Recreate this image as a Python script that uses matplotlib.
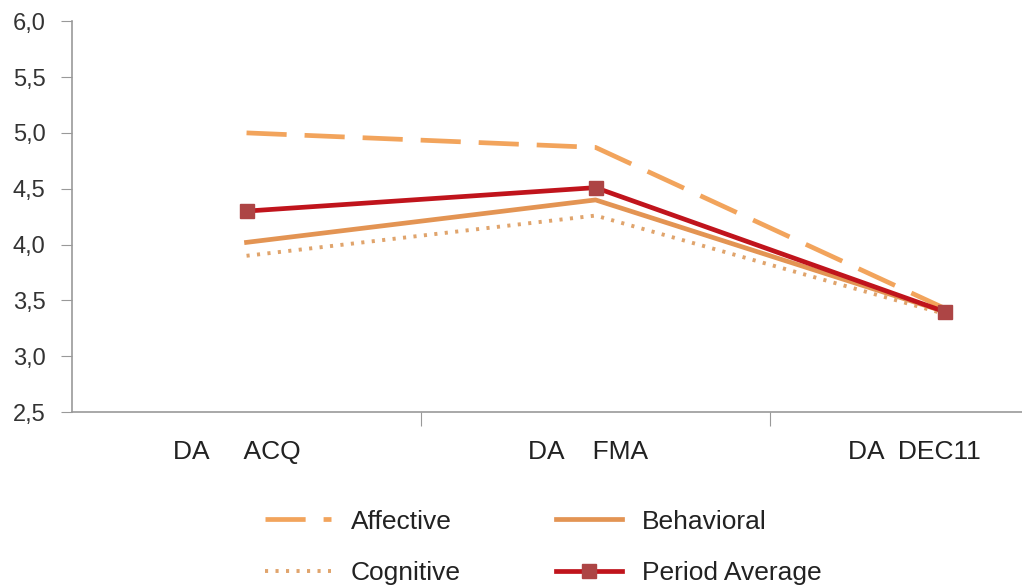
import numpy as np
import matplotlib.pyplot as plt
from matplotlib.transforms import ScaledTranslation

plt.rcParams['font.family'] = ['Liberation Sans', 'DejaVu Sans']

periods = ["DA     ACQ", "DA    FMA", "DA  DEC11"]
affective = [5.00, 4.87, 3.43]
behavioral = [4.02, 4.40, 3.40]
cognitive = [3.90, 4.26, 3.38]
period_avg = [4.30, 4.51, 3.40]
yticks = [2.5, 3.0, 3.5, 4.0, 4.5, 5.0, 5.5, 6.0]

fig = plt.figure(figsize=(10.22, 5.88), dpi=100)
ax = fig.add_axes([0.0705, 0.299, 0.9295, 0.665])
x = np.arange(len(periods))

l_aff, = ax.plot(x, affective, color='#F2A45C', lw=3.4, ls=(0, (8.5, 3.8)),
                 solid_capstyle='butt', label='Affective')
l_beh, = ax.plot(x, behavioral, color='#E39453', lw=3.4, label='Behavioral')
l_cog, = ax.plot(x, cognitive, color='#E0A46C', lw=2.8, ls=(0, (0.8, 1.9)),
                 label='Cognitive')
l_avg, = ax.plot(x, period_avg, color='#C0141C', lw=3.4, marker='s', ms=10,
                 mfc='#AD4545', mec='#AD4545', label='Period Average')

ax.set_xlim(-0.5, 2.222)
ax.set_ylim(2.5, 6.0)
ax.set_yticks(yticks)
ax.set_yticklabels([f"{v:.1f}".replace('.', ',') for v in yticks])
ax.set_xticks([0.5, 1.5])
ax.set_xticks(x, minor=True)
ax.set_xticklabels(["", ""])
ax.set_xticklabels(periods, minor=True)
ax.tick_params(axis='x', which='major', length=10, color='#999999', direction='out')
ax.tick_params(axis='x', which='minor', length=0, pad=20, labelsize=19, labelcolor='#222222')
ax.tick_params(axis='y', length=8, color='#999999', pad=11, labelsize=17, labelcolor='#333333')

# shift category labels slightly left, the last one more
for lab, dx in zip(ax.get_xticklabels(minor=True), [-10, -7, -30]):
    lab.set_transform(lab.get_transform() + ScaledTranslation(dx / 100, 0, fig.dpi_scale_trans))

for s in ['top', 'right']:
    ax.spines[s].set_visible(False)
for s in ['left', 'bottom']:
    ax.spines[s].set_color('#999999')
    ax.spines[s].set_linewidth(1.2)

fig.legend(handles=[l_aff, l_cog, l_beh, l_avg], ncol=2, loc='lower left',
           bbox_to_anchor=(0.236, -0.036), frameon=False, fontsize=19,
           handlelength=2.5, handletextpad=0.76, columnspacing=3.6,
           labelspacing=1.05, labelcolor='#222222')

fig.savefig('out.png', dpi=100)
